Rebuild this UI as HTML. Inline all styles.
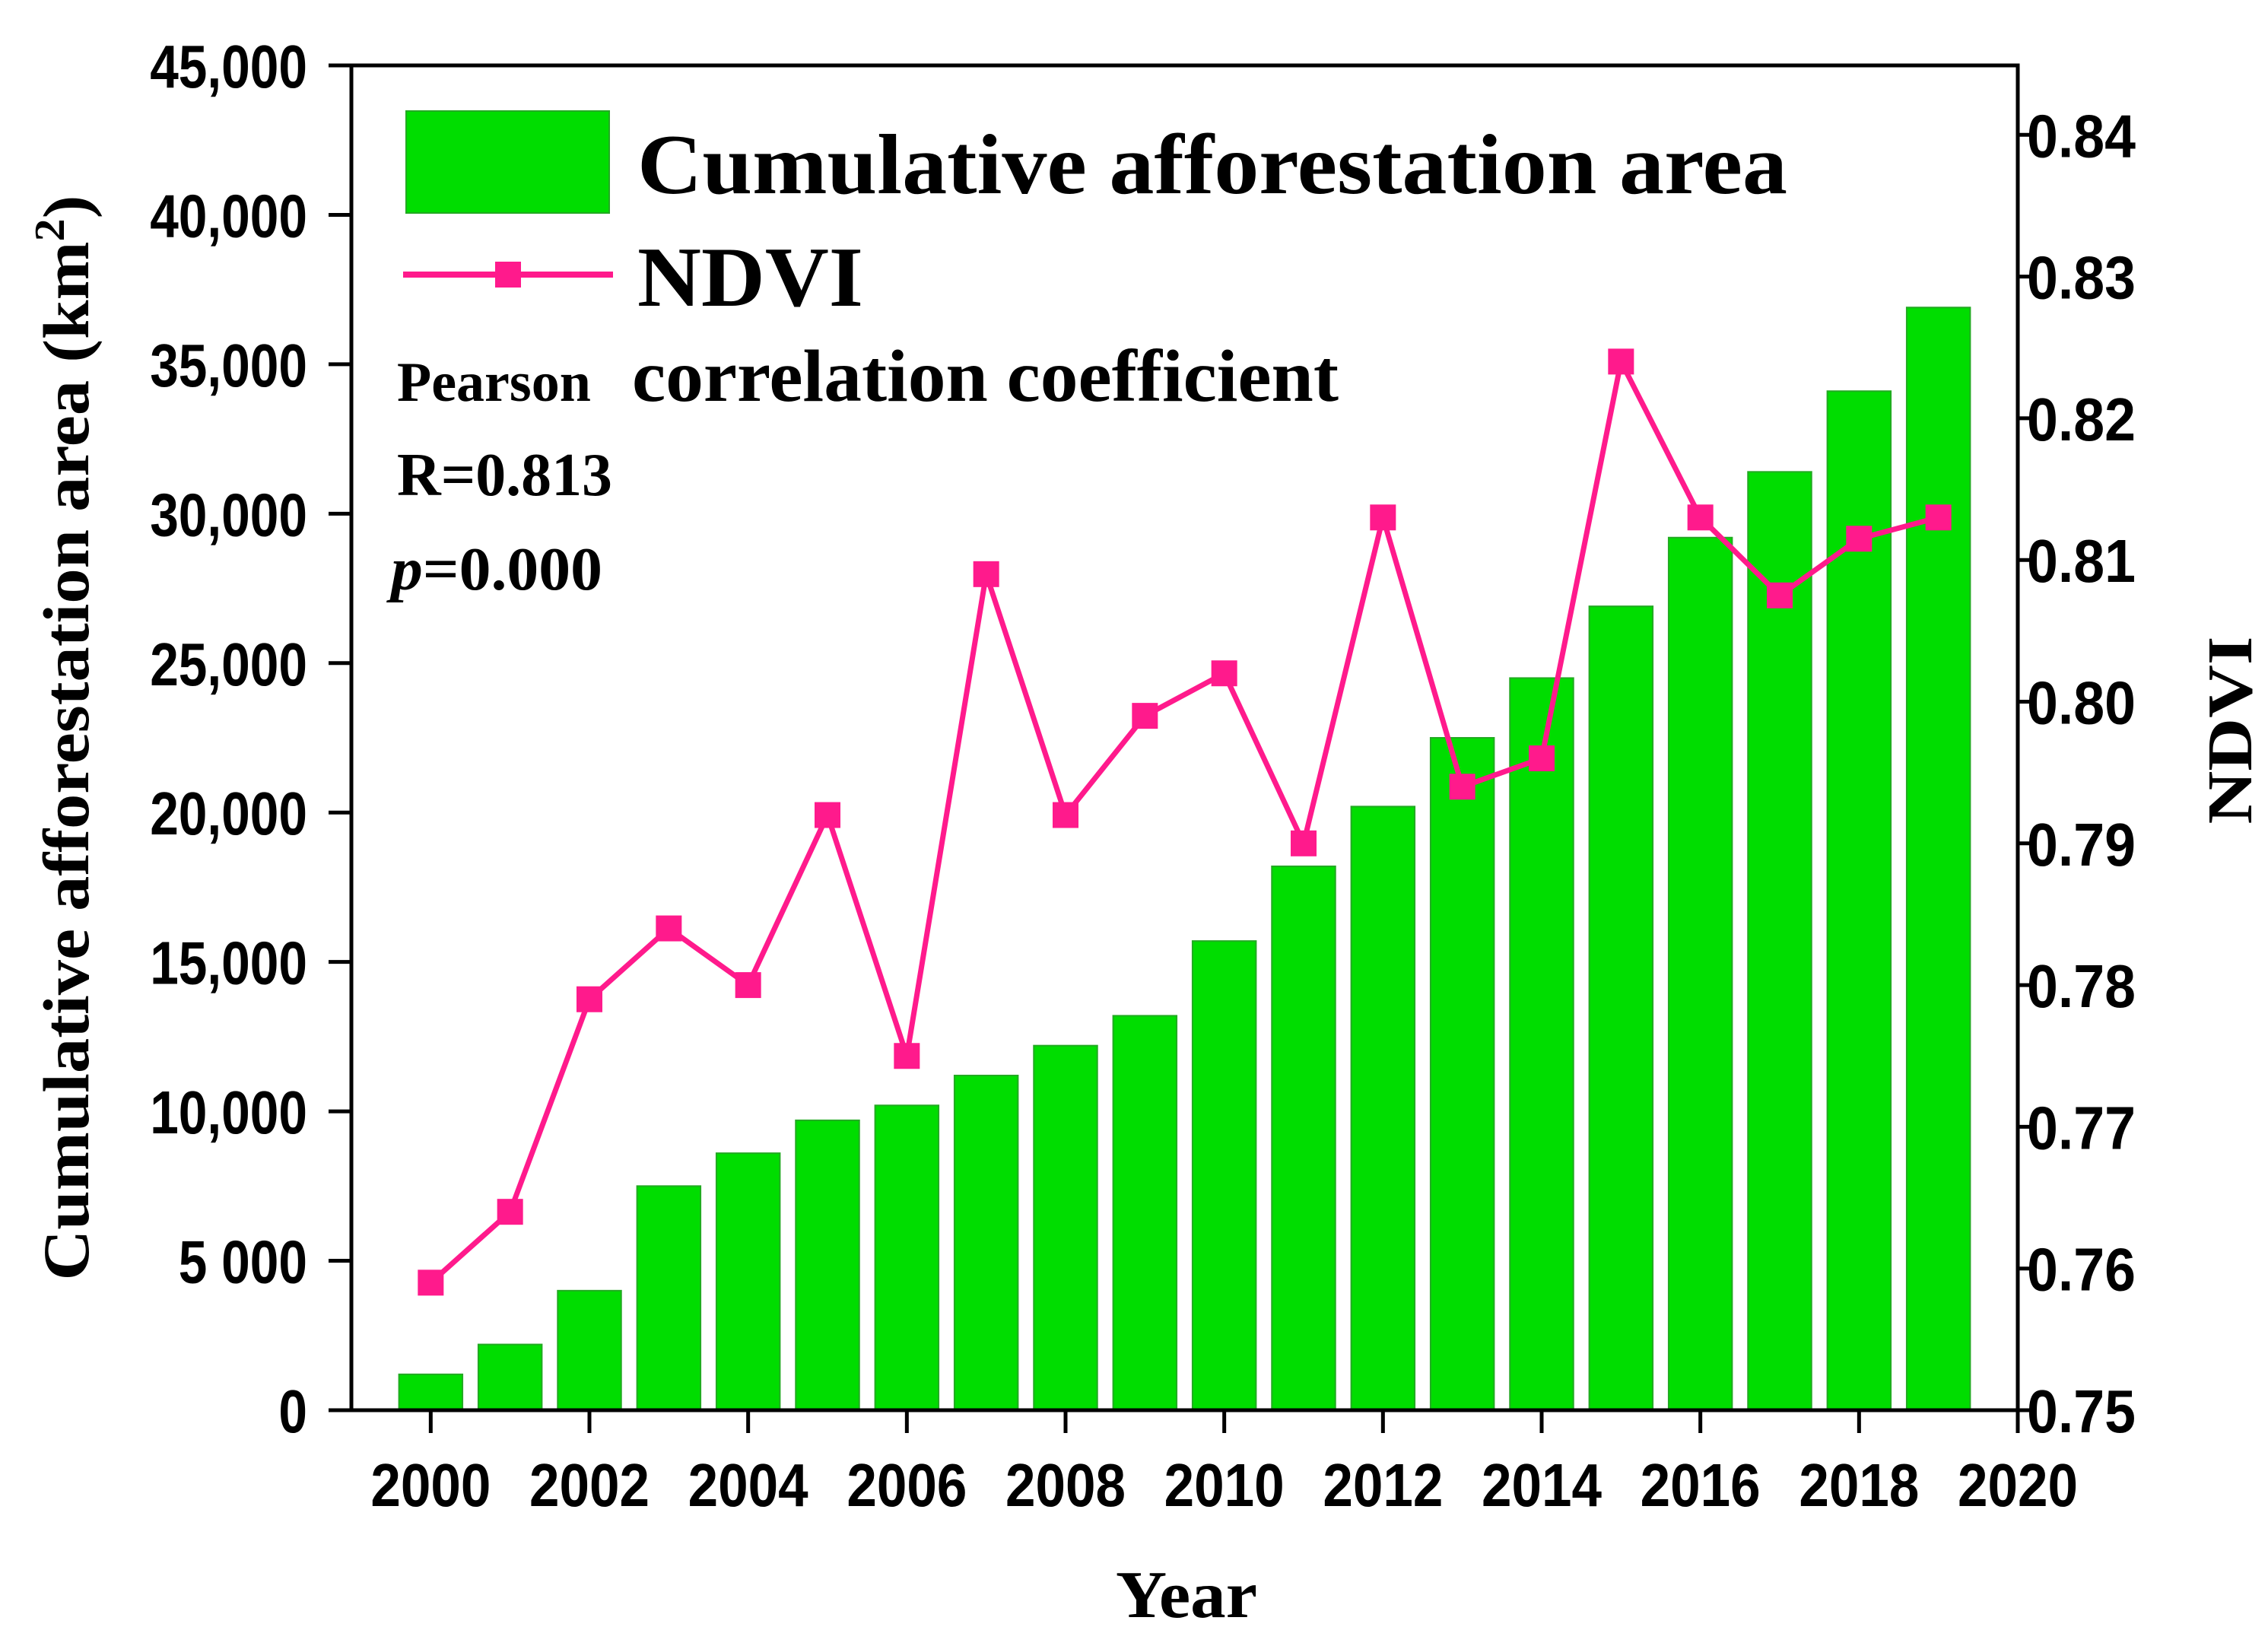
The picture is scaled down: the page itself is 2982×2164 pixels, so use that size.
<!DOCTYPE html>
<html><head><meta charset="utf-8"><style>
html,body{margin:0;padding:0;background:#fff}
svg{display:block}
.tk{font-family:"Liberation Sans",Arial,sans-serif;font-weight:bold;font-size:80px;fill:#000}
.sf{font-family:"Liberation Serif","Times New Roman",serif;font-weight:bold;fill:#000}
</style></head><body>
<svg id="chart" width="2982" height="2164" viewBox="0 0 2982 2164" xmlns="http://www.w3.org/2000/svg">
<g id="bars"></g>
<g id="line"></g>
<g id="axes"></g>
<g>
  <rect x="534" y="146" width="267" height="134" fill="#00dd00" stroke="#22aa22" stroke-width="2"/>
  <text class="sf" x="838" y="254" font-size="112" textLength="1512" lengthAdjust="spacingAndGlyphs">Cumulative afforestation area</text>
  <line x1="530" y1="361" x2="806" y2="361" stroke="#ff1a8c" stroke-width="8"/>
  <rect x="651" y="344" width="34" height="34" fill="#ff1a8c"/>
  <text class="sf" x="838" y="402" font-size="112" textLength="297" lengthAdjust="spacingAndGlyphs">NDVI</text>
</g>
<g>
  <text class="sf" x="522" y="527" font-size="74">Pearson</text>
  <text class="sf" x="831" y="527" font-size="98" textLength="929" lengthAdjust="spacingAndGlyphs">correlation coefficient</text>
  <text class="sf" x="522" y="651" font-size="80" textLength="283" lengthAdjust="spacingAndGlyphs">R=0.813</text>
  <text class="sf" x="514" y="775" font-size="80" textLength="278" lengthAdjust="spacingAndGlyphs"><tspan font-style="italic">p</tspan>=0.000</text>
</g>
<text class="sf" font-size="86" text-anchor="middle" transform="translate(116,970) rotate(-90)" textLength="1427" lengthAdjust="spacingAndGlyphs">Cumulative afforestation area (km<tspan font-size="56" dy="-32">2</tspan><tspan dy="32">)</tspan></text>
<text class="sf" font-size="84" text-anchor="middle" transform="translate(2960,960) rotate(-90)" textLength="247" lengthAdjust="spacingAndGlyphs">NDVI</text>
<text class="sf" font-size="88" text-anchor="middle" x="1560" y="2126" textLength="186" lengthAdjust="spacingAndGlyphs">Year</text>
</svg>
<script>
const years=[2000,2001,2002,2003,2004,2005,2006,2007,2008,2009,2010,2011,2012,2013,2014,2015,2016,2017,2018,2019];
const area=[1200,2200,4000,7500,8600,9700,10200,11200,12200,13200,15700,18200,20200,22500,24500,26900,29200,31400,34100,36900];
const ndvi=[0.759,0.764,0.779,0.784,0.780,0.792,0.775,0.809,0.792,0.799,0.802,0.790,0.813,0.794,0.796,0.824,0.813,0.8075,0.8115,0.813];
const xTicks=[2000,2002,2004,2006,2008,2010,2012,2014,2016,2018,2020];
const yTicks=[0,5000,10000,15000,20000,25000,30000,35000,40000,45000];
const yTickLabels=["0","5 000","10,000","15,000","20,000","25,000","30,000","35,000","40,000","45,000"];
const y2Ticks=[0.75,0.76,0.77,0.78,0.79,0.80,0.81,0.82,0.83,0.84];
const y2TickLabels=["0.75","0.76","0.77","0.78","0.79","0.80","0.81","0.82","0.83","0.84"];

const L=462,R=2653,T=86,B=1854;
const X=v=>L+(v-1999)/(2020-1999)*(R-L);
const Y=v=>B-v/45000*(B-T);
const Y2=v=>B-(v-0.75)/(0.8449-0.75)*(B-T);
const NS="http://www.w3.org/2000/svg";
function mk(tag,attrs,parent){const e=document.createElementNS(NS,tag);for(const k in attrs)e.setAttribute(k,attrs[k]);parent.appendChild(e);return e;}
function tlen(s){let w=0;for(const c of s){w+=(c>='0'&&c<='9')?40:20;}return w;}
const bars=document.getElementById('bars'),line=document.getElementById('line'),axes=document.getElementById('axes');
const bw=(X(1)-X(0))*0.8;
years.forEach((y,i)=>{
  const r=mk('rect',{x:X(y)-bw/2,y:Y(area[i]),width:bw,height:B-Y(area[i]),fill:'#00dd00',stroke:'#22aa22','stroke-width':2},bars);
  
  
});
const pl=mk('polyline',{points:years.map((y,i)=>X(y)+','+Y2(ndvi[i])).join(' '),fill:'none',stroke:'#ff1a8c','stroke-width':7},line);


years.forEach((y,i)=>{
  const m=mk('rect',{x:X(y)-17,y:Y2(ndvi[i])-17,width:34,height:34,fill:'#ff1a8c'},line);
  
  
});
const fr=mk('rect',{x:L,y:T,width:R-L,height:B-T,fill:'none',stroke:'#000','stroke-width':5},axes);


yTicks.forEach((v,i)=>{
  const t=mk('line',{x1:L-30,x2:L,y1:Y(v),y2:Y(v),stroke:'#000','stroke-width':5},axes);
  
  
  const s=yTickLabels[i];
  const tx=mk('text',{x:L-58,y:Y(v)+29,'text-anchor':'end',class:'tk',textLength:tlen(s)*0.94,lengthAdjust:'spacingAndGlyphs'},axes);
  tx.textContent=s;
  
  
});
y2Ticks.forEach((v,i)=>{
  const t=mk('line',{x1:R,x2:R+24,y1:Y2(v),y2:Y2(v),stroke:'#000','stroke-width':5},axes);
  
  
  const tx=mk('text',{x:R+12,y:Y2(v)+29,'text-anchor':'start',class:'tk',textLength:143,lengthAdjust:'spacingAndGlyphs'},axes);
  tx.textContent=y2TickLabels[i];
  
  
});
xTicks.forEach(v=>{
  const t=mk('line',{x1:X(v),x2:X(v),y1:B,y2:B+30,stroke:'#000','stroke-width':5},axes);
  
  
  const tx=mk('text',{x:X(v),y:B+126,'text-anchor':'middle',class:'tk',textLength:158,lengthAdjust:'spacingAndGlyphs'},axes);
  tx.textContent=String(v);
  
  
});
</script>
</body></html>
